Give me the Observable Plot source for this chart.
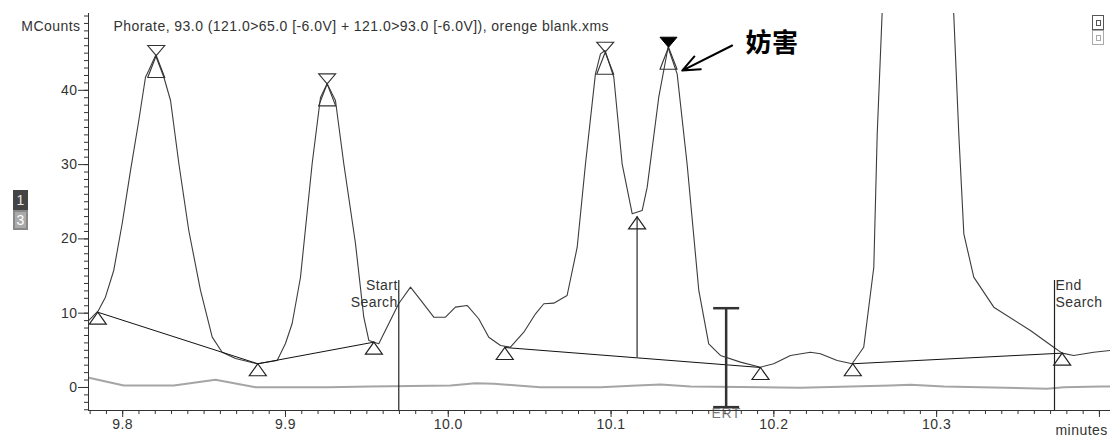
<!DOCTYPE html>
<html><head><meta charset="utf-8">
<script src="https://cdn.jsdelivr.net/npm/d3@7"></script>
<script src="https://cdn.jsdelivr.net/npm/@observablehq/plot@0.6"></script>
<style>
html,body{margin:0;padding:0;background:#fff;overflow:hidden;}
#wrap{position:relative;width:1110px;height:441px;}
#wrap svg{position:absolute;left:0;top:0;}
.leg{position:absolute;left:13px;width:15px;height:20px;font:14px "Liberation Sans",Arial,sans-serif;text-align:center;line-height:20px;box-sizing:border-box;}
.ico{position:absolute;left:1092px;width:12px;height:15px;box-sizing:border-box;background:#fff;}
.ico i{position:absolute;left:2.5px;top:3.5px;width:5px;height:6px;box-sizing:border-box;}
</style></head><body><div id="wrap"></div><script>
// ---- data ----
const mainTime = [9.7792, 9.7851, 9.7894, 9.7945, 9.7997, 9.8048, 9.8099, 9.8140, 9.8160, 9.8202, 9.8253, 9.8294, 9.8345, 9.8406, 9.8478, 9.8550, 9.8611, 9.8693, 9.8826, 9.8949, 9.9000, 9.9041, 9.9092, 9.9164, 9.9215, 9.9256, 9.9307, 9.9358, 9.9430, 9.9481, 9.9512, 9.9573, 9.9635, 9.9696, 9.9768, 9.9840, 9.9911, 9.9983, 10.0044, 10.0116, 10.0187, 10.0249, 10.0321, 10.0382, 10.0464, 10.0536, 10.0587, 10.0648, 10.0730, 10.0792, 10.0843, 10.0904, 10.0935, 10.0963, 10.1017, 10.1068, 10.1130, 10.1191, 10.1222, 10.1293, 10.1350, 10.1406, 10.1467, 10.1539, 10.1600, 10.1672, 10.1795, 10.1918, 10.1999, 10.2102, 10.2225, 10.2286, 10.2389, 10.2481, 10.2552, 10.2614, 10.2635, 10.2665, 10.2880, 10.3105, 10.3136, 10.3167, 10.3228, 10.3351, 10.3576, 10.3719, 10.3771, 10.3842, 10.3965, 10.4068];
const mainCounts = [9.02, 10.36, 12.15, 15.75, 22.07, 29.2, 35.94, 41.76, 42.66, 44.68, 41.76, 38.63, 30.15, 21.13, 13.06, 6.77, 4.75, 3.90, 3.19, 3.63, 5.92, 8.61, 14.80, 30.15, 39.03, 40.87, 38.63, 30.15, 19.38, 9.46, 6.33, 5.88, 8.61, 11.31, 13.50, 11.48, 9.46, 9.46, 10.81, 11.04, 9.25, 6.77, 5.65, 5.42, 7.44, 9.92, 11.27, 11.35, 12.38, 18.88, 30.11, 42.22, 44.91, 45.36, 41.76, 30.11, 23.38, 23.82, 26.96, 39.07, 45.76, 42.22, 30.11, 13.06, 5.88, 4.31, 3.41, 2.73, 3.19, 4.31, 4.75, 4.54, 3.63, 3.19, 5.42, 16.19, 34.15, 50.30, 110, 50.30, 34.15, 20.69, 14.85, 10.81, 7.67, 5.42, 4.62, 4.31, 4.75, 4.98];

const blankTime = [9.7792, 9.8007, 9.8314, 9.8570, 9.8816, 9.9266, 9.9522, 10.0014, 10.0167, 10.0280, 10.0423, 10.0566, 10.0935, 10.1160, 10.1304, 10.1488, 10.2164, 10.2717, 10.2839, 10.3044, 10.3679, 10.3781, 10.4006, 10.4068];
const blankCounts = [1.31, 0.27, 0.27, 1.04, 0.04, 0.04, 0.13, 0.27, 0.58, 0.50, 0.27, 0.04, 0.04, 0.27, 0.40, 0.13, -0.04, 0.27, 0.36, 0.13, -0.17, 0.04, 0.13, 0.13];

const integTime = [9.7847, 9.8830, 9.9543, 10.0347, 10.1918, 10.2485, 10.3771];
const integCounts = [10.13, 3.19, 6.10, 5.38, 2.69, 3.19, 4.62];
const integGroup = ["A", "A", "A", "B", "B", "C", "C"];

const peakTime = [9.8206, 9.9256, 10.0964, 10.1353];
const peakCounts = [44.68, 40.87, 45.13, 45.80];
const peakTarget = [false, false, false, true];

const valleyTime = [10.116];
const valleyTop = [22.97];
const valleyBase = [3.94];

const ertTime = [10.1707];
const ertTop = [10.67];
const ertBottom = [-2.65];

const searchTime = [9.9696, 10.3724];
const searchLabel = ["Start\nSearch", "End\nSearch"];
const searchTop = 14.4;

const noteLabel = ["妨害"];
const noteTextAt = [10.1826, 46.23];
const noteArrowFrom = [10.1744, 46.03];
const noteArrowTo = [10.1437, 42.66];

const xMajorTicks = [9.8, 9.9, 10.0, 10.1, 10.2, 10.3, 10.4];
const xTickLabels = ["9.8", "9.9", "10.0", "10.1", "10.2", "10.3", ""];
const yMajorTicks = [0, 10, 20, 30, 40];
const yTickLabels = ["0", "10", "20", "30", "40"];
const xDomain = [9.779, 10.4068];
const yDomain = [-3.1, 50.34];

const titleText = "Phorate, 93.0 (121.0>65.0 [-6.0V] + 121.0>93.0 [-6.0V]), orenge blank.xms";
const yUnit = "MCounts";
const xUnit = "minutes";
const legendIds = ["1", "3"];

// ---- tables ----
const main = mainTime.map((t, i) => ({t, c: mainCounts[i]}));
const blank = blankTime.map((t, i) => ({t, c: blankCounts[i]}));
const integ = integTime.map((t, i) => ({t, c: integCounts[i], g: integGroup[i]}));
const peaks = peakTime.map((t, i) => ({t, c: peakCounts[i], target: peakTarget[i]}));
const valleys = valleyTime.map((t, i) => ({t, top: valleyTop[i], base: valleyBase[i]}));
const erts = ertTime.map((t, i) => ({t, top: ertTop[i], bottom: ertBottom[i]}));
const searches = searchTime.map((t, i) => ({t, label: searchLabel[i], top: searchTop}));

// ---- symbols ----
const triUp = {draw(ctx) { ctx.moveTo(0, 0); ctx.lineTo(8.5, 12); ctx.lineTo(-8.5, 12); ctx.closePath(); }};
const triUpTall = {draw(ctx) { ctx.moveTo(0, 0); ctx.lineTo(8.5, 22); ctx.lineTo(-8.5, 22); ctx.closePath(); }};
const triDown = {draw(ctx) { ctx.moveTo(0, 0); ctx.lineTo(8.5, -10); ctx.lineTo(-8.5, -10); ctx.closePath(); }};
const hBar = {draw(ctx) { ctx.moveTo(-13, 0); ctx.lineTo(13, 0); }};

const FONT = "Liberation Sans, Arial, sans-serif";
const fmtX = d => xTickLabels[xMajorTicks.indexOf(d)] ?? "";
const fmtY = d => yTickLabels[yMajorTicks.indexOf(d)] ?? "";

const chart = Plot.plot({
  width: 1110, height: 441,
  marginLeft: 88, marginRight: 0, marginTop: 13, marginBottom: 31,
  x: {domain: xDomain, label: null},
  y: {domain: yDomain, label: null},
  style: {fontFamily: FONT, fontSize: "14px", color: "#333", background: "transparent", overflow: "visible", letterSpacing: "0.45px"},
  marks: [
    Plot.line(blank, {x: "t", y: "c", stroke: "#a5a5a5", strokeWidth: 2, clip: true}),
    Plot.line(main, {x: "t", y: "c", stroke: "#3c3c3c", strokeWidth: 1.1, clip: true}),
    Plot.line(integ, {x: "t", y: "c", z: "g", stroke: "#111", strokeWidth: 1}),
    Plot.ruleX(searches, {x: "t", y1: "top", y2: yDomain[0], stroke: "#222", strokeWidth: 1.2}),
    Plot.ruleX(valleys, {x: "t", y1: "base", y2: "top", stroke: "#555", strokeWidth: 1.5}),
    Plot.dot(valleys, {x: "t", y: "top", symbol: triUp, r: 5, stroke: "#222", fill: "none", strokeWidth: 1.2}),
    Plot.dot(integ, {x: "t", y: "c", symbol: triUp, r: 5, stroke: "#222", fill: "none", strokeWidth: 1.2}),
    Plot.dot(peaks, {x: "t", y: "c", symbol: triUpTall, r: 5, stroke: "#333", fill: "none", strokeWidth: 1.1}),
    Plot.dot(peaks.filter(d => !d.target), {x: "t", y: "c", symbol: triDown, r: 5, stroke: "#333", fill: "none", strokeWidth: 1.1}),
    Plot.dot(peaks.filter(d => d.target), {x: "t", y: "c", symbol: triDown, r: 5, stroke: "#000", fill: "#000", strokeWidth: 1}),
    Plot.ruleX(erts, {x: "t", y1: "bottom", y2: "top", stroke: "#333", strokeWidth: 2.5}),
    Plot.dot(erts, {x: "t", y: "top", symbol: hBar, r: 5, stroke: "#333", strokeWidth: 2.5}),
    Plot.dot(erts, {x: "t", y: "bottom", symbol: hBar, r: 5, stroke: "#333", strokeWidth: 2.5}),
    Plot.text(erts, {x: "t", frameAnchor: "bottom", text: () => "ERT", dy: 7, fill: "#777", fontSize: 14}),
    Plot.text(searches.slice(0, 1), {x: "t", y: "top", text: "label", textAnchor: "end", lineAnchor: "top", dx: -1, dy: -2, lineHeight: 1.2, fill: "#333", fontSize: 14}),
    Plot.text(searches.slice(1), {x: "t", y: "top", text: "label", textAnchor: "start", lineAnchor: "top", dx: 1, dy: -2, lineHeight: 1.2, fill: "#333", fontSize: 14}),
    // axes
    Plot.ruleX([xDomain[0]], {stroke: "#333"}),
    Plot.ruleY([yDomain[0]], {stroke: "#333"}),
    Plot.axisY({ticks: yMajorTicks, tickSize: 10, tickPadding: 1, tickFormat: fmtY, fontSize: 14, label: null, stroke: "#333", fill: "#333"}),
    Plot.axisY({ticks: d3.range(-3, 51), tickSize: 4, tickFormat: () => "", label: null, stroke: "#333"}),
    Plot.axisX({ticks: xMajorTicks, tickSize: 7, tickPadding: 2, tickFormat: fmtX, fontSize: 14, label: null, stroke: "#333", fill: "#333"}),
    Plot.axisX({ticks: d3.range(978, 1041).map(d => d / 100), tickSize: 4, tickFormat: () => "", label: null, stroke: "#333"}),
    Plot.text([yUnit], {frameAnchor: "top-left", text: d => d, textAnchor: "end", dx: -8, dy: 8, fontSize: 14, fill: "#333"}),
    Plot.text([titleText], {frameAnchor: "top-left", text: d => d, textAnchor: "start", dx: 25, dy: 8, fontSize: 14, fill: "#333"}),
    Plot.text([xUnit], {frameAnchor: "bottom-right", text: d => d, textAnchor: "start", dx: -55, dy: 24, fontSize: 14, fill: "#333"}),
    // annotation
    Plot.arrow(noteLabel, {x1: () => noteArrowFrom[0], y1: () => noteArrowFrom[1], x2: () => noteArrowTo[0], y2: () => noteArrowTo[1], stroke: "#000", strokeWidth: 2, headLength: 16, headAngle: 45}),
    Plot.text(noteLabel, {x: () => noteTextAt[0], y: () => noteTextAt[1], text: d => d, textAnchor: "start", fontSize: 26, fontWeight: "bold", fontFamily: "Noto Sans CJK SC", fill: "#000", style: "letter-spacing:0"})
  ]
});
const wrap = document.getElementById("wrap");
wrap.appendChild(chart);

// legend chips (channel ids) and toolbar icons
const legStyles = [
  {top: 190, bg: "#444", color: "#e8e8e8", border: "1px solid #444"},
  {top: 210, bg: "#aaa", color: "#fff", border: "2px solid #888"}
];
legendIds.forEach((id, i) => {
  const d = document.createElement("div");
  d.className = "leg";
  d.textContent = id;
  d.style.top = legStyles[i].top + "px";
  d.style.background = legStyles[i].bg;
  d.style.color = legStyles[i].color;
  d.style.border = legStyles[i].border;
  d.style.lineHeight = (20 - 2 * parseInt(legStyles[i].border)) + "px";
  wrap.appendChild(d);
});
[{top: 15, c: "#555"}, {top: 30, c: "#aaa"}].forEach(s => {
  const d = document.createElement("div");
  d.className = "ico";
  d.style.top = s.top + "px";
  d.style.border = "1.5px solid " + s.c;
  const i = document.createElement("i");
  i.style.border = "1px solid " + s.c;
  d.appendChild(i);
  wrap.appendChild(d);
});
</script></body></html>
